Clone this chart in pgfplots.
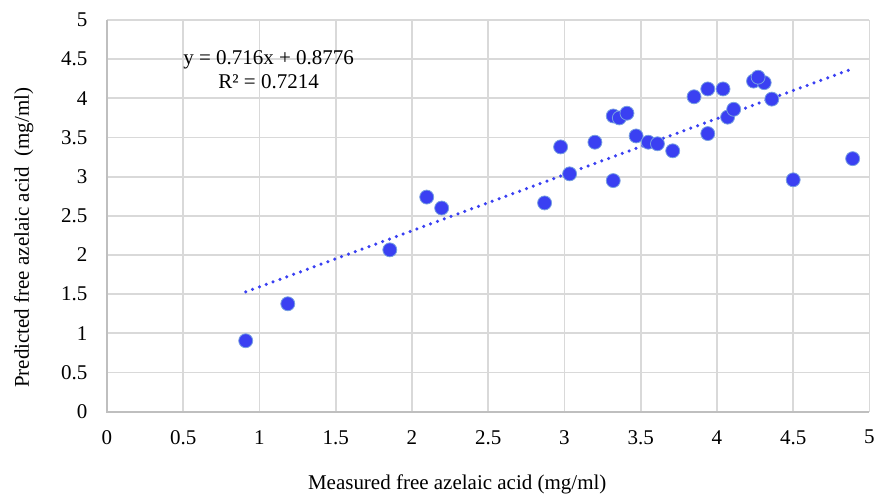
\documentclass[border=0pt]{standalone}
\usepackage{pgfplots}
\pgfplotsset{compat=1.18}
\usepackage{fontspec}
\setmainfont{Liberation Serif}
\usetikzlibrary{calc}
\definecolor{ptblue}{RGB}{58,64,242}
\definecolor{ptedge}{RGB}{120,160,225}
\definecolor{gridc}{RGB}{217,217,217}
\definecolor{axc}{RGB}{191,191,191}
\begin{document}
\begin{tikzpicture}
\begin{axis}[
  scale only axis, width=763pt, height=392pt,
  xmin=0, xmax=5, ymin=0, ymax=5,
  xtick={0,0.5,...,5}, ytick={0,0.5,...,5},
  xticklabels={0,0.5,1,1.5,2,2.5,3,3.5,4,4.5,5},
  yticklabels={0,0.5,1,1.5,2,2.5,3,3.5,4,4.5,5},
  grid=major, major grid style={gridc, line width=1.8pt},
  axis line style={draw=none},
  major tick length=0pt,
  tick label style={font=\fontsize{21}{24}\selectfont},
  /pgf/number format/assume math mode=true,
  xticklabel style={yshift=-15pt},
  yticklabel style={xshift=-16pt},
  xlabel={Measured free azelaic acid (mg/ml)},
  ylabel={Predicted free azelaic acid\ \ (mg/ml)},
  label style={font=\fontsize{21}{24}\selectfont},
  xlabel style={at={(rel axis cs:0.5,0)}, anchor=north, yshift=-59pt, xshift=-31pt},
  ylabel style={at={(rel axis cs:0,0.5)}, anchor=south, xshift=-22pt, yshift=70pt},
  clip=false,
]
\draw[axc, line width=1.8pt] (rel axis cs:0,1) -- (rel axis cs:0,0) -- (rel axis cs:1,0);
\coordinate (bl) at (rel axis cs:0,0);
\coordinate (tr) at (rel axis cs:1,1);
\addplot[only marks, mark=*, mark size=7pt, mark options={fill=ptblue, draw=ptedge, line width=0.8pt}]
coordinates {
(0.91,0.906) (1.186,1.378) (1.855,2.066) (2.097,2.74) (2.195,2.60)
(2.87,2.665) (2.975,3.38) (3.034,3.036) (3.20,3.44) (3.32,2.95)
(3.32,3.775) (3.36,3.75) (3.41,3.81) (3.47,3.52) (3.55,3.44)
(3.61,3.42) (3.71,3.33) (3.85,4.02) (3.94,3.55) (3.94,4.12)
(4.04,4.12) (4.07,3.76) (4.11,3.86) (4.36,3.99) (4.24,4.22)
(4.31,4.20) (4.27,4.27) (4.50,2.96) (4.89,3.23)
};
\addplot[ptblue, line width=3.5pt, line cap=round, dash pattern=on 0pt off 7.3pt]
coordinates {(0.91,1.5292) (4.89,4.3788)};
\node[align=center, font=\fontsize{21}{24}\selectfont, inner sep=0pt] at (axis cs:1.06,4.36) {y = 0.716x + 0.8776\\R² = 0.7214};
\end{axis}
\path ($(bl)+(-107pt,-86pt)$) rectangle ($(tr)+(8pt,20pt)$);
\end{tikzpicture}
\end{document}
